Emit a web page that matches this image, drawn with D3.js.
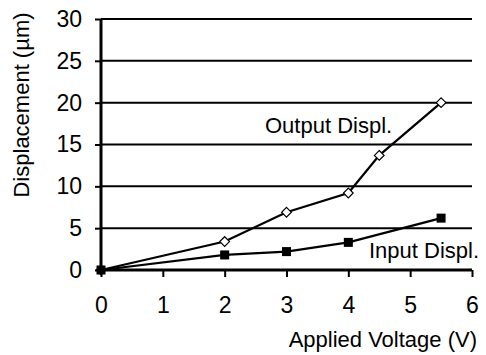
<!DOCTYPE html>
<head>
  <meta charset="utf-8">
  <style>
    body { margin: 0; background: #fff; }
    svg { display: block; font-family: Arial, "Liberation Sans", sans-serif; }
  </style>
  <script src="https://cdn.jsdelivr.net/npm/d3@7"></script>
</head>
<body>
<svg id=chart width="486" height="355"></svg>
<script>
// data
const output_v = [0, 2, 3, 4, 4.5, 5.5]
const output_d = [0, 3.4, 6.9, 9.2, 13.7, 20.0]
const input_v = [0, 2, 3, 4, 5.5]
const input_d = [0, 1.8, 2.2, 3.3, 6.2]
const x_ticks = [0, 1, 2, 3, 4, 5, 6]
const y_ticks = [0, 5, 10, 15, 20, 25, 30]

const svg = d3.select('#chart')
const x = d3.scaleLinear().domain([0, 6]).range([101, 472])
const y = d3.scaleLinear().domain([0, 30]).range([270, 19])

// gridlines
svg.append('g')
  .selectAll('line')
  .data(y_ticks.filter(d => d > 0))
  .join('line')
  .attr('x1', x(0)).attr('x2', x(6))
  .attr('y1', d => y(d)).attr('y2', d => y(d))
  .attr('stroke', '#000').attr('stroke-width', 2)

// y axis
const ya = svg.append('g')
  .attr('transform', `translate(${x(0)},0)`)
  .call(d3.axisLeft(y).tickValues(y_ticks).tickFormat(d3.format('d')).tickSize(6).tickPadding(13))
  .attr('font-family', null).attr('font-size', 23)
ya.select('.domain').attr('stroke-width', 3).attr('d', `M0,${y(30)}V${y(0) + 1}`)
ya.selectAll('.tick line').attr('stroke-width', 2)
ya.selectAll('.tick text').attr('fill', '#000')

// x axis
const xa = svg.append('g')
  .attr('transform', `translate(0,${y(0)})`)
  .call(d3.axisBottom(x).tickValues(x_ticks).tickFormat(d3.format('d')).tickSize(7).tickPadding(20))
  .attr('font-family', null).attr('font-size', 23)
xa.select('.domain').attr('stroke-width', 3).attr('d', `M${x(0)},0H${x(6)}`)
xa.selectAll('.tick line').attr('stroke-width', 2)
xa.selectAll('.tick text').attr('fill', '#000')

// axis titles
svg.append('text')
  .attr('x', 477).attr('y', 347)
  .attr('text-anchor', 'end').attr('font-size', 22)
  .text('Applied Voltage (V)')
svg.append('text')
  .attr('transform', 'translate(29,105) rotate(-90)')
  .attr('text-anchor', 'middle').attr('font-size', 22)
  .text('Displacement (µm)')

const line = d3.line().x(d => x(d[0])).y(d => y(d[1]))
const out_pts = output_v.map((v, i) => [v, output_d[i]])
const in_pts = input_v.map((v, i) => [v, input_d[i]])

svg.append('path').datum(in_pts).attr('d', line)
  .attr('fill', 'none').attr('stroke', '#000').attr('stroke-width', 2.2)
svg.append('path').datum(out_pts).attr('d', line)
  .attr('fill', 'none').attr('stroke', '#000').attr('stroke-width', 2.2)

// markers (squares last so the origin shows filled)
svg.append('g').selectAll('path')
  .data(out_pts)
  .join('path')
  .attr('d', d3.symbol(d3.symbolDiamond2, 60))
  .attr('transform', d => `translate(${x(d[0])},${y(d[1])})`)
  .attr('fill', '#fff').attr('stroke', '#000').attr('stroke-width', 1.2)
svg.append('g').selectAll('rect')
  .data(in_pts)
  .join('rect')
  .attr('x', d => x(d[0]) - 4.5).attr('y', d => y(d[1]) - 4.5)
  .attr('width', 9).attr('height', 9)
  .attr('fill', '#000')

// series labels
svg.append('text')
  .attr('x', 265).attr('y', 133).attr('font-size', 22)
  .text('Output Displ.')
svg.append('text')
  .attr('x', 369).attr('y', 258).attr('font-size', 22)
  .text('Input Displ.')
</script>
</body>
